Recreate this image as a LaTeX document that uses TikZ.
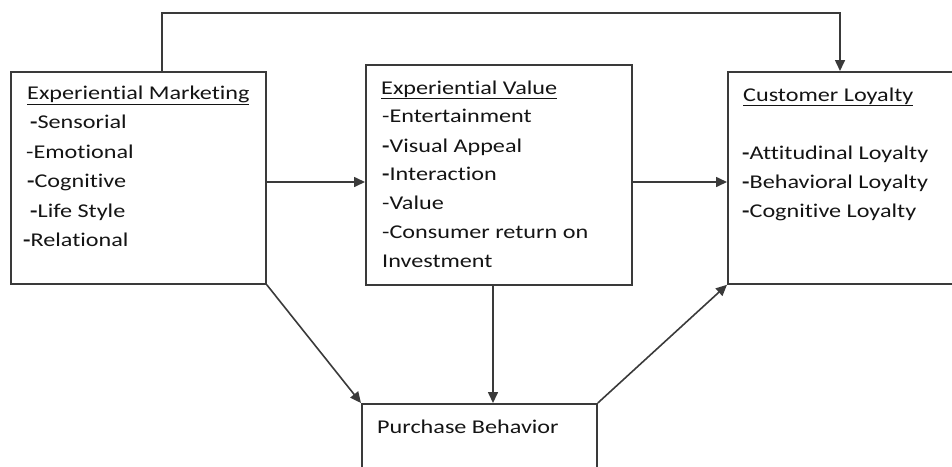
\documentclass[tikz,border=0pt]{standalone}
\usepackage{graphicx}
\usepackage{fontspec}
\setmainfont{Carlito}[Ligatures=NoCommon]
\usetikzlibrary{arrows.meta}
\definecolor{ink}{HTML}{141414}
\definecolor{rule}{HTML}{3A3A3A}
% labels are set a little wider than the font's natural width
\newcommand{\wide}[1]{\scalebox{1.24}[1]{#1}}
\begin{document}
\begin{tikzpicture}[x=1pt,y=-1pt,
  box/.style={draw=rule,line width=1.8pt,rectangle,anchor=north west,inner sep=0pt},
  txt/.style={anchor=base west,inner sep=0pt,text=ink,font=\fontsize{19.5}{29}\selectfont},
  arr/.style={draw=rule,line width=1.6pt,-{Triangle[length=11pt,width=10pt]}}]
\useasboundingbox (0,0) rectangle (952,466);
\clip (0,0) rectangle (952,466);

% boxes
\node[box,minimum width=255pt,minimum height=212pt] (em) at (10,71) {};
\node[box,minimum width=266pt,minimum height=220pt] (ev) at (365,64) {};
\node[box,minimum width=260pt,minimum height=212pt] (cl) at (727,71) {};
\node[box,minimum width=235pt,minimum height=100pt] (pb) at (361,403) {};

% Experiential Marketing
\node[txt] (em0) at (27,99) {\wide{\underline{Experiential Marketing}}};
\node[txt] (em1) at (30,128) {\wide{\textbf{-}Sensorial}};
\node[txt] (em2) at (26,158) {\wide{-Emotional}};
\node[txt] (em3) at (27,187) {\wide{\textbf{-}Cognitive}};
\node[txt] (em4) at (30,217) {\wide{\textbf{-}Life Style}};
\node[txt] (em5) at (23,246) {\wide{\textbf{-}Relational}};

% Experiential Value
\node[txt] (ev0) at (381,94) {\wide{\underline{Experiential Value}}};
\node[txt] (ev1) at (382,122) {\wide{-Entertainment}};
\node[txt] (ev2) at (382,152) {\wide{\textbf{-}Visual Appeal}};
\node[txt] (ev3) at (382,180) {\wide{\textbf{-}Interaction}};
\node[txt] (ev4) at (382,209) {\wide{-Value}};
\node[txt] (ev5) at (382,238) {\wide{-Consumer return on}};
\node[txt] (ev6) at (382,267) {\wide{Investment}};

% Customer Loyalty
\node[txt] (cl0) at (743,101) {\wide{\underline{Customer Loyalty}}};
\node[txt] (cl1) at (742,159) {\wide{\textbf{-}Attitudinal Loyalty}};
\node[txt] (cl2) at (742,188) {\wide{\textbf{-}Behavioral Loyalty}};
\node[txt] (cl3) at (742,217) {\wide{\textbf{-}Cognitive Loyalty}};

% Purchase Behavior
\node[txt] (pb0) at (377,433) {\wide{Purchase Behavior}};

% connectors
\coordinate (t1) at (162,13);
\coordinate (t2) at (840,13);
\coordinate (mid) at (0,182);
\coordinate (down) at (493,0);
\draw[arr] (em.north -| t1) -- (t1) -- (t2) -- (cl.north -| t2);
\draw[arr] (em.east |- mid) -- (ev.west |- mid);
\draw[arr] (ev.east |- mid) -- (cl.west |- mid);
\draw[arr] (ev.south -| down) -- (pb.north -| down);
\draw[arr] (em.south east) -- (pb.north west);
\draw[arr] (pb.north east) -- (cl.south west);
\end{tikzpicture}
\end{document}
